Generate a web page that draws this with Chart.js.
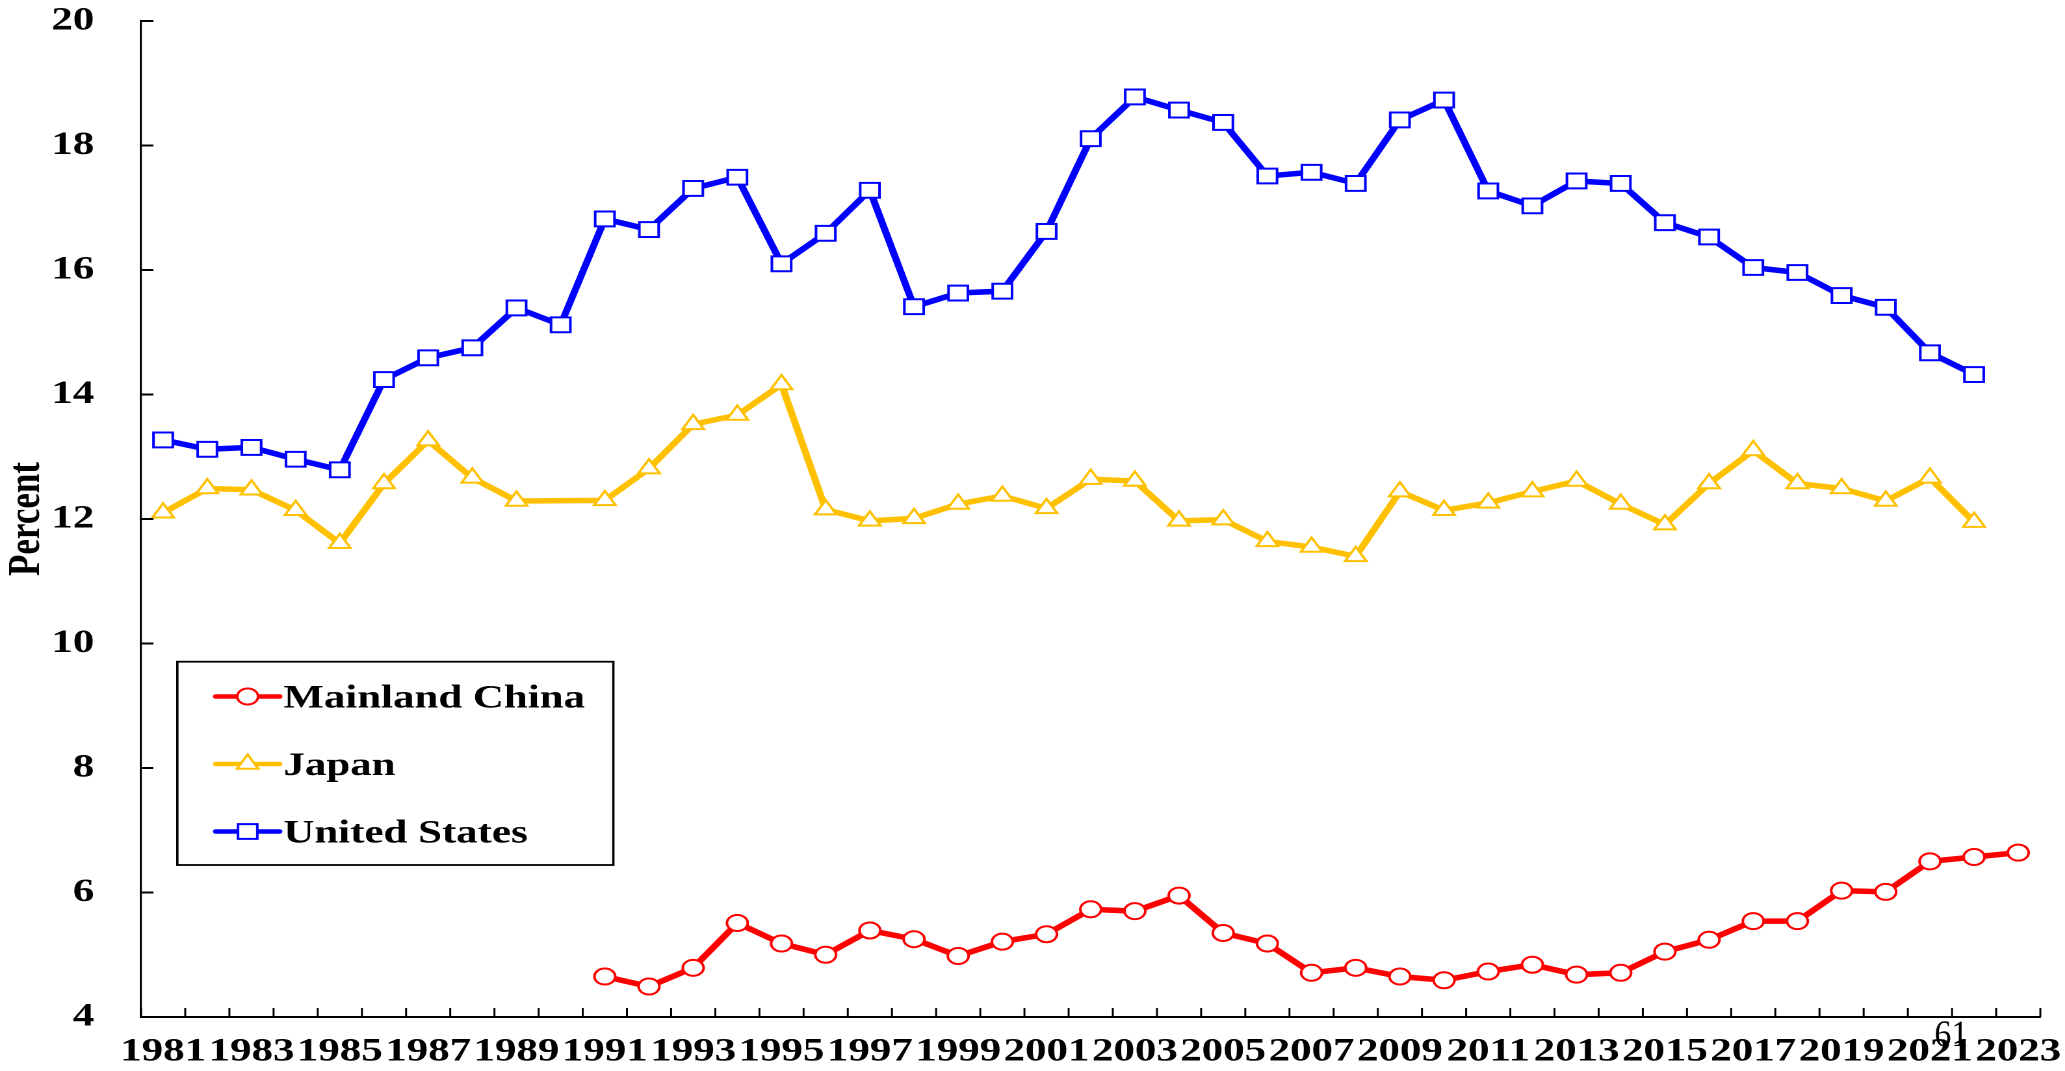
<!DOCTYPE html>
<html>
<head>
<meta charset="utf-8">
<title>Percent: Mainland China, Japan, United States</title>
<script src="https://cdn.jsdelivr.net/npm/chart.js"></script>
<style>
  html, body { margin: 0; padding: 0; background: #fff; overflow: hidden; }
  #wrap { width: 2065px; height: 1071px; overflow: hidden; }
  /* the source picture is stretched sideways, so the canvas is too */
  #chart { transform: scaleX(1.3); transform-origin: 0 0; }
</style>
</head>
<body>
<div id="wrap"><canvas id="chart" width="1588" height="1071"></canvas></div>
<script>
const years = ['1981', '1982', '1983', '1984', '1985', '1986', '1987', '1988', '1989', '1990',
  '1991', '1992', '1993', '1994', '1995', '1996', '1997', '1998', '1999', '2000',
  '2001', '2002', '2003', '2004', '2005', '2006', '2007', '2008', '2009', '2010',
  '2011', '2012', '2013', '2014', '2015', '2016', '2017', '2018', '2019', '2020',
  '2021', '2022', '2023'];

const chinaValues = [null, null, null, null, null, null, null, null, null, null,
  4.65, 4.49, 4.79, 5.51, 5.18, 5.00, 5.39, 5.25, 4.98, 5.21,
  5.33, 5.73, 5.70, 5.95, 5.35, 5.18, 4.71, 4.79, 4.65, 4.59,
  4.73, 4.84, 4.68, 4.71, 5.05, 5.24, 5.54, 5.54, 6.03, 6.01,
  6.50, 6.57, 6.64];

const japanValues = [12.10, 12.49, 12.47, 12.14, 11.61, 12.57, 13.26, 12.66, 12.29, null,
  12.30, 12.81, 13.52, 13.67, 14.16, 12.15, 11.97, 12.01, 12.24, 12.37,
  12.17, 12.64, 12.61, 11.97, 11.99, 11.64, 11.55, 11.40, 12.44, 12.14,
  12.26, 12.44, 12.61, 12.24, 11.91, 12.57, 13.10, 12.57, 12.49, 12.29,
  12.66, 11.95, null];

const usValues = [13.27, 13.12, 13.15, 12.96, 12.79, 14.24, 14.59, 14.75, 15.39, 15.12,
  16.82, 16.65, 17.31, 17.49, 16.10, 16.59, 17.28, 15.41, 15.63, 15.66,
  16.62, 18.11, 18.78, 18.57, 18.37, 17.51, 17.57, 17.39, 18.41, 18.73,
  17.27, 17.03, 17.43, 17.39, 16.76, 16.53, 16.04, 15.96, 15.59, 15.40,
  14.67, 14.32, null];

const yMin = 4;
const yMax = 20;
const yStep = 2;
const pageNumber = '61';

const serif = "'Liberation Serif', 'Times New Roman', serif";
Chart.defaults.font.family = serif;
Chart.defaults.font.weight = 'bold';
Chart.defaults.font.size = 33;
Chart.defaults.color = '#000';

// tick marks pointing into the plot, boxed legend and the page number
const extras = {
  id: 'extras',
  afterDraw(chart) {
    const {ctx, chartArea, scales: {x, y}} = chart;
    ctx.save();
    ctx.strokeStyle = '#000';

    ctx.lineWidth = 2;
    y.ticks.forEach(t => {
      const py = y.getPixelForValue(t.value);
      ctx.beginPath();
      ctx.moveTo(chartArea.left, py);
      ctx.lineTo(chartArea.left + 9.5, py);
      ctx.stroke();
    });

    ctx.lineWidth = 1.5;
    for (let i = 0; i <= years.length; i++) {
      const px = x.getPixelForValue(i - 0.5);
      ctx.beginPath();
      ctx.moveTo(px, chartArea.bottom);
      ctx.lineTo(px, chartArea.bottom - 9);
      ctx.stroke();
    }

    // legend
    ctx.lineWidth = 1.8;
    ctx.strokeRect(136.4, 661.7, 335.4, 203.3);
    chart.data.datasets.forEach((ds, i) => {
      const rowY = 696.5 + i * 67.5;
      ctx.strokeStyle = ds.borderColor;
      ctx.lineWidth = 4.5;
      ctx.lineCap = 'round';
      ctx.beginPath();
      ctx.moveTo(166, rowY);
      ctx.lineTo(215, rowY);
      ctx.stroke();
      ctx.fillStyle = ds.pointBackgroundColor;
      ctx.lineWidth = ds.pointBorderWidth;
      Chart.helpers.drawPoint(ctx, {
        pointStyle: ds.pointStyle, radius: ds.pointRadius,
        borderWidth: ds.pointBorderWidth, rotation: 0
      }, 190.5, rowY);
      ctx.fillStyle = '#000';
      ctx.font = 'bold 33px ' + serif;
      ctx.textAlign = 'left';
      ctx.textBaseline = 'alphabetic';
      ctx.fillText(ds.label, 218, rowY + 11);
    });

    // page number left over on the source picture
    ctx.translate(1501, 1046);
    ctx.scale(0.7, 1);
    ctx.font = '37px ' + serif;
    ctx.textAlign = 'center';
    ctx.fillStyle = '#000';
    ctx.fillText(pageNumber, 0, 0);
    ctx.restore();
  }
};

new Chart(document.getElementById('chart'), {
  type: 'line',
  data: {
    labels: years,
    datasets: [{
      label: 'Mainland China',
      data: chinaValues,
      borderColor: '#FF0000',
      borderWidth: 5.5,
      pointStyle: 'circle',
      pointRadius: 8,
      pointBorderWidth: 2,
      pointBackgroundColor: '#fff',
      pointBorderColor: '#FF0000'
    }, {
      label: 'Japan',
      data: japanValues,
      borderColor: '#FFC000',
      borderWidth: 5.5,
      spanGaps: true,
      pointStyle: 'triangle',
      pointRadius: 9.5,
      pointBorderWidth: 2,
      pointBackgroundColor: '#fff',
      pointBorderColor: '#FFC000'
    }, {
      label: 'United States',
      data: usValues,
      borderColor: '#0000FF',
      borderWidth: 5.5,
      pointStyle: 'rect',
      pointRadius: 10.5,
      pointBorderWidth: 2,
      pointBackgroundColor: '#fff',
      pointBorderColor: '#0000FF'
    }]
  },
  options: {
    responsive: false,
    devicePixelRatio: 2,
    animation: false,
    layout: { padding: { top: 21, right: 18.5, left: 0, bottom: 0 } },
    elements: { line: { tension: 0 } },
    plugins: {
      legend: { display: false },
      tooltip: { enabled: false }
    },
    scales: {
      x: {
        offset: true,
        grid: { display: false, drawTicks: false },
        border: { display: true, color: '#000', width: 2 },
        ticks: {
          autoSkip: false,
          maxRotation: 0,
          minRotation: 0,
          padding: 15,
          callback: (v, i) => (i % 2 === 0 ? years[i] : '')
        },
        afterFit(s) { s.height = 54; s.paddingLeft = 0; s.paddingRight = 0; }
      },
      y: {
        min: yMin,
        max: yMax,
        grid: { display: false, drawTicks: false },
        border: { display: true, color: '#000', width: 1.6 },
        ticks: { stepSize: yStep, padding: 36 },
        title: {
          display: true,
          text: 'Percent',
          font: { size: 35, weight: 'bold' },
          padding: { top: 0, bottom: 0 }
        },
        afterFit(s) { s.width = 108.5; s.paddingTop = 0; s.paddingBottom = 0; }
      }
    }
  },
  plugins: [extras]
});
</script>
</body>
</html>
